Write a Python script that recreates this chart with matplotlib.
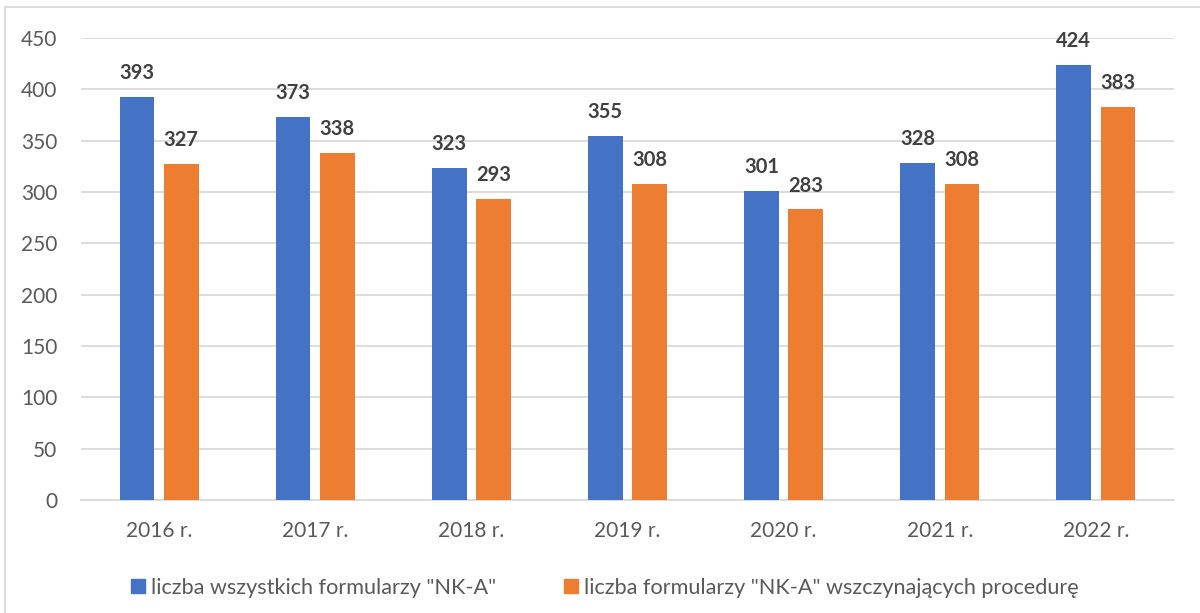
import matplotlib
matplotlib.use("Agg")
import matplotlib.pyplot as plt
import numpy as np
from matplotlib.lines import Line2D
from matplotlib.patches import Rectangle

categories = ["2016 r.", "2017 r.", "2018 r.", "2019 r.", "2020 r.", "2021 r.", "2022 r."]
all_forms = [393, 373, 323, 355, 301, 328, 424]
initiating = [327, 338, 293, 308, 283, 308, 383]
series_names = ['liczba wszystkich formularzy "NK-A"',
                'liczba formularzy "NK-A" wszczynających procedurę']
yticks = [0, 50, 100, 150, 200, 250, 300, 350, 400, 450]

plt.rcParams['font.family'] = ['Lato', 'DejaVu Sans']

W, H = 1200, 613
fig = plt.figure(figsize=(W / 100, H / 100), dpi=100)
ax = fig.add_axes([81 / W, 1 - 500 / H, (1174 - 81) / W, (500 - 38) / H])

x = np.arange(len(categories))
bw = 0.222
off = 0.142
c1, c2 = "#4472C4", "#ED7D31"
b1 = ax.bar(x - off, all_forms, bw, color=c1, zorder=3)
b2 = ax.bar(x + off, initiating, bw, color=c2, zorder=3)

for bars, vals in ((b1, all_forms), (b2, initiating)):
    for rect, v in zip(bars, vals):
        ax.annotate(str(v), (rect.get_x() + rect.get_width() / 2, v),
                    xytext=(0, 10), textcoords="offset points",
                    ha="center", va="bottom", fontsize=14.5,
                    fontweight="bold", color="#404040")

ax.set_xlim(-0.5, len(categories) - 0.5)
ax.set_ylim(0, 450)
ax.set_yticks(yticks)
ax.set_xticks(x)
ax.set_xticklabels(categories)
ax.tick_params(axis="both", length=0, labelsize=15, colors="#595959")
ax.tick_params(axis="x", pad=15)
ax.tick_params(axis="y", pad=17)
ax.grid(axis="y", color="#d9d9d9", linewidth=1.3, zorder=0)
for s in ["top", "right", "left"]:
    ax.spines[s].set_visible(False)
ax.spines["bottom"].set_color("#d9d9d9")
ax.spines["bottom"].set_linewidth(1.3)

# legend (placed like the original chart's bottom legend)
leg_y = 1 - 586 / H
for (sq_x, tx_x), name, col in (((131, 151), series_names[0], c1),
                                 ((564, 584), series_names[1], c2)):
    fig.add_artist(Rectangle((sq_x / W, (H - 593) / H), 14 / W, 14 / H,
                             transform=fig.transFigure, color=col))
    fig.text(tx_x / W, leg_y, name, ha="left", va="center_baseline",
             fontsize=15.6, color="#595959")

# partial chart border (top and left)
fig.add_artist(Line2D([5 / W, 5 / W], [0, 1 - 7 / H], transform=fig.transFigure,
                      color="#d9d9d9", linewidth=1.3))
fig.add_artist(Line2D([5 / W, 1], [1 - 7 / H, 1 - 7 / H], transform=fig.transFigure,
                      color="#d9d9d9", linewidth=1.3))

fig.savefig("out.png", dpi=100)
